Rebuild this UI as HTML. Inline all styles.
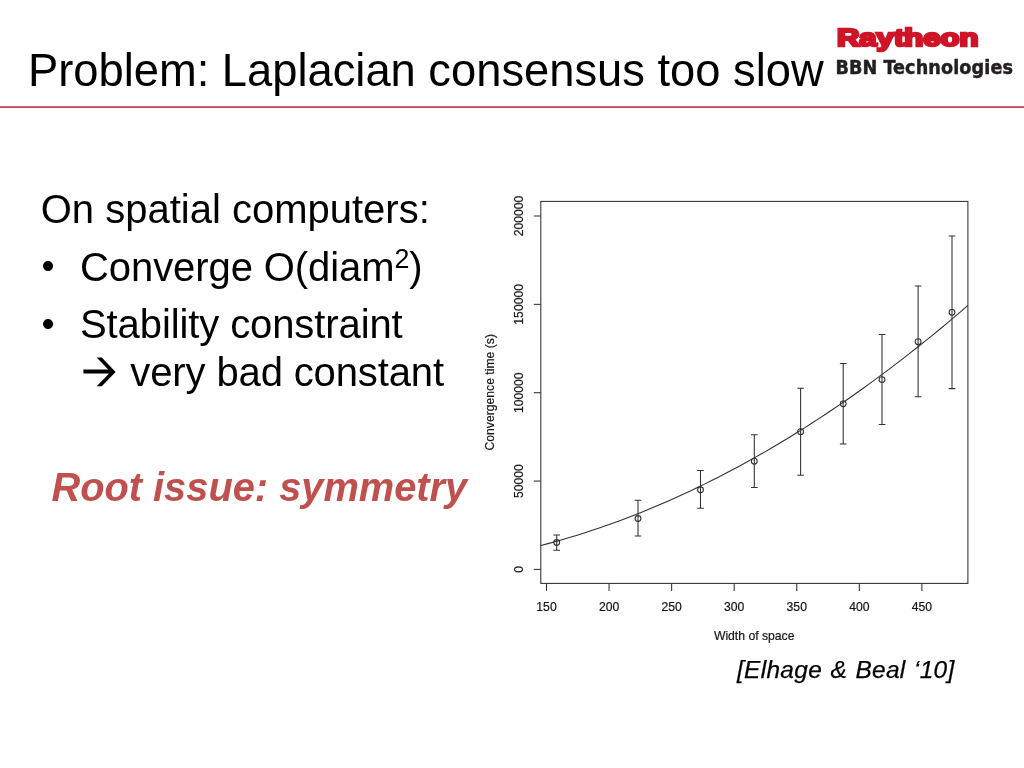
<!DOCTYPE html>
<html lang="en">
<head>
<meta charset="utf-8">
<title>Problem: Laplacian consensus too slow</title>
<style>
html,body{margin:0;padding:0;}
body{width:1024px;height:768px;overflow:hidden;background:#fff;position:relative;font-family:"Liberation Sans",sans-serif;color:#000;}
.abs{position:absolute;white-space:nowrap;line-height:1;margin:0;}
.title{left:28px;top:47.6px;font-size:45.3px;font-weight:normal;}
.rule{position:absolute;left:0;top:106px;width:1024px;height:2px;background:linear-gradient(#d9667b 0,#d9667b 50%,#b84c60 50%,#b84c60 100%);}
.body{font-size:40px;}
.bul{font-size:37.4px;}
sup.sq{font-size:0.67em;vertical-align:baseline;position:relative;top:-0.47em;line-height:0;}
.root{left:51.4px;top:467.5px;font-size:39.8px;font-weight:bold;font-style:italic;color:#c0504d;}
.cite{left:736.5px;top:658.5px;font-size:23.5px;font-style:italic;color:#000;letter-spacing:0.3px;word-spacing:1.2px;transform-origin:0 0;transform:scaleX(1.04);-webkit-text-stroke:0.25px #000;}
.bbn{left:835.4px;top:57.5px;font-family:"DejaVu Sans Condensed","DejaVu Sans",sans-serif;font-size:19.6px;font-weight:bold;color:#231f20;letter-spacing:0.1px;-webkit-text-stroke:0.45px #231f20;}
svg.chart{position:absolute;left:0;top:0;}
svg.arrow{display:inline-block;vertical-align:baseline;position:relative;top:0.7px;margin:0 3.5px 0 3.9px;}
</style>
</head>
<body>
<svg class="chart" width="1024" height="768" viewBox="0 0 1024 768">
<rect x="480" y="144" width="519.7" height="511.8" fill="#fefefe"/>
<g fill="none" stroke="#303030" stroke-width="1.05">
<rect x="540.8" y="201.4" width="427.10" height="382.00"/>
<line x1="533.80" y1="569.40" x2="540.8" y2="569.40"/>
<line x1="533.80" y1="481.05" x2="540.8" y2="481.05"/>
<line x1="533.80" y1="392.70" x2="540.8" y2="392.70"/>
<line x1="533.80" y1="304.35" x2="540.8" y2="304.35"/>
<line x1="533.80" y1="216.00" x2="540.8" y2="216.00"/>
<line x1="546.50" y1="583.4" x2="546.50" y2="590.90"/>
<line x1="609.07" y1="583.4" x2="609.07" y2="590.90"/>
<line x1="671.63" y1="583.4" x2="671.63" y2="590.90"/>
<line x1="734.20" y1="583.4" x2="734.20" y2="590.90"/>
<line x1="796.76" y1="583.4" x2="796.76" y2="590.90"/>
<line x1="859.33" y1="583.4" x2="859.33" y2="590.90"/>
<line x1="921.89" y1="583.4" x2="921.89" y2="590.90"/>
<path d="M540.80 545.50 L547.92 543.62 L555.04 541.68 L562.15 539.65 L569.27 537.56 L576.39 535.40 L583.51 533.16 L590.63 530.85 L597.75 528.47 L604.87 526.01 L611.98 523.49 L619.10 520.89 L626.22 518.22 L633.34 515.48 L640.46 512.67 L647.57 509.78 L654.69 506.82 L661.81 503.79 L668.93 500.69 L676.05 497.52 L683.17 494.27 L690.28 490.96 L697.40 487.57 L704.52 484.11 L711.64 480.57 L718.76 476.97 L725.88 473.29 L733.00 469.54 L740.11 465.72 L747.23 461.82 L754.35 457.86 L761.47 453.82 L768.59 449.71 L775.70 445.53 L782.82 441.28 L789.94 436.95 L797.06 432.55 L804.18 428.08 L811.30 423.54 L818.41 418.93 L825.53 414.24 L832.65 409.48 L839.77 404.65 L846.89 399.75 L854.01 394.78 L861.12 389.73 L868.24 384.61 L875.36 379.42 L882.48 374.16 L889.60 368.83 L896.72 363.42 L903.84 357.94 L910.95 352.39 L918.07 346.77 L925.19 341.08 L932.31 335.31 L939.43 329.47 L946.54 323.56 L953.66 317.58 L960.78 311.53 L967.90 305.40"/>
<path d="M556.70 535.00V550.20M553.40 535.00H560.00M553.40 550.20H560.00"/>
<circle cx="556.70" cy="542.50" r="2.9"/>
<path d="M638.00 500.25V536.00M634.70 500.25H641.30M634.70 536.00H641.30"/>
<circle cx="638.00" cy="518.50" r="2.9"/>
<path d="M700.50 470.50V508.25M697.20 470.50H703.80M697.20 508.25H703.80"/>
<circle cx="700.50" cy="489.75" r="2.9"/>
<path d="M754.30 434.70V487.40M751.00 434.70H757.60M751.00 487.40H757.60"/>
<circle cx="754.30" cy="461.20" r="2.9"/>
<path d="M800.60 388.30V475.20M797.30 388.30H803.90M797.30 475.20H803.90"/>
<circle cx="800.60" cy="431.70" r="2.9"/>
<path d="M843.20 363.50V444.00M839.90 363.50H846.50M839.90 444.00H846.50"/>
<circle cx="843.20" cy="403.80" r="2.9"/>
<path d="M882.00 334.40V424.50M878.70 334.40H885.30M878.70 424.50H885.30"/>
<circle cx="882.00" cy="379.60" r="2.9"/>
<path d="M918.10 286.00V396.80M914.80 286.00H921.40M914.80 396.80H921.40"/>
<circle cx="918.10" cy="341.70" r="2.9"/>
<path d="M952.00 235.90V388.60M948.70 235.90H955.30M948.70 388.60H955.30"/>
<circle cx="952.00" cy="312.30" r="2.9"/>
</g>
<g font-family="'Liberation Sans', sans-serif" font-size="12.2" fill="#151515" stroke="#151515" stroke-width="0.2" text-anchor="middle">
<text x="546.50" y="610.7">150</text>
<text x="609.07" y="610.7">200</text>
<text x="671.63" y="610.7">250</text>
<text x="734.20" y="610.7">300</text>
<text x="796.76" y="610.7">350</text>
<text x="859.33" y="610.7">400</text>
<text x="921.89" y="610.7">450</text>
<text transform="translate(523.3 569.40) rotate(-90)">0</text>
<text transform="translate(523.3 481.05) rotate(-90)">50000</text>
<text transform="translate(523.3 392.70) rotate(-90)">100000</text>
<text transform="translate(523.3 304.35) rotate(-90)">150000</text>
<text transform="translate(523.3 216.00) rotate(-90)">200000</text>
<text x="754.2" y="640">Width of space</text>
<text transform="translate(494 392.3) rotate(-90)">Convergence time (s)</text>
</g>
<text x="836.9" y="45.8" font-family="'Liberation Sans', sans-serif" font-weight="bold" font-size="24.5" fill="#d01427" stroke="#d01427" stroke-width="2.6" stroke-linejoin="miter" textLength="141.6" lengthAdjust="spacingAndGlyphs">Raytheon</text>
</svg>
<h1 class="abs title">Problem: Laplacian consensus too slow</h1>
<div class="rule"></div>
<div class="abs bbn">BBN Technologies</div>
<p class="abs body" style="left:40.7px;top:189.2px;">On spatial computers:</p>
<p class="abs bul" style="left:41.5px;top:246.8px;">•</p>
<p class="abs body" style="left:80px;top:246.5px;letter-spacing:-0.08px;">Converge O(diam<sup class="sq">2</sup>)</p>
<p class="abs bul" style="left:41.5px;top:305px;">•</p>
<p class="abs body" style="left:80px;top:304.4px;letter-spacing:-0.1px;">Stability constraint</p>
<p class="abs body" style="left:79px;top:352px;letter-spacing:-0.13px;"><svg class="arrow" width="33" height="30" viewBox="0 0 33 30" role="img"><title>→</title><path d="M0.4 12.4H28V16.6H0.4Z M13.67 0.44H18.75L32.66 15L18.75 29.34H13.67L27.58 15Z" fill="#000"/></svg> very bad constant</p>
<p class="abs root">Root issue: symmetry</p>
<p class="abs cite">[Elhage &amp; Beal ‘10]</p>
</body>
</html>
